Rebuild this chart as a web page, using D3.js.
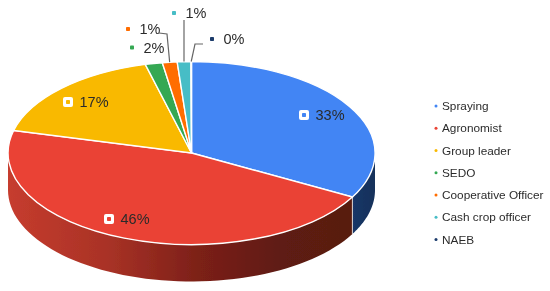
<!DOCTYPE html>
<html>
<head>
<meta charset="utf-8">
<script src="https://cdn.jsdelivr.net/npm/d3@7"></script>
<style>
	html, body { margin: 0; padding: 0; background: #fff; }
	text { font-family: "Liberation Sans", Arial, sans-serif; fill: #2b2b2b; }
</style>
</head>
<body>
<div id="container"></div>
<script>
var categories = ["Spraying", "Agronomist", "Group leader", "SEDO", "Cooperative Officer", "Cash crop officer", "NAEB"];
var shares = [33, 46, 17, 1.5, 1.3, 1.2, 0.05];
var colors = ["#4285f4", "#ea4335", "#f9b902", "#34a853", "#ff6d01", "#46bdc6", "#1a3a6b"];

var w = 550, h = 291;
var cx = 191.5, cy = 153, rx = 183.5, ry = 91.5, depth = 37;

// label spots, same order as categories: [marker x, marker y]
var labelSpots = [[304, 115], [109, 219], [68, 102], [132, 47.5], [128, 29], [174, 13], [212, 39]];
// leader lines for the small slices, null where there is none
var leaders = [null, null, null, null,
	[[159, 33], [167, 34]],
	[[184, 20]],
	[[203, 44], [195, 44]]];

var svg = d3.select("#container")
	.append("svg")
	.attr("width", w)
	.attr("height", h)
	.style("display", "block");

var defs = svg.append("defs");
defs.append("filter").attr("id", "soft")
	.append("feGaussianBlur").attr("stdDeviation", 0.4);

var redSide = defs.append("linearGradient")
	.attr("id", "redSide")
	.attr("gradientUnits", "userSpaceOnUse")
	.attr("x1", cx - rx).attr("x2", cx + rx)
	.attr("y1", 0).attr("y2", 0);
redSide.append("stop").attr("offset", "0%").attr("stop-color", "#c63c2e");
redSide.append("stop").attr("offset", "27%").attr("stop-color", "#a93226");
redSide.append("stop").attr("offset", "52%").attr("stop-color", "#7c2018");
redSide.append("stop").attr("offset", "75%").attr("stop-color", "#5e1b12");
redSide.append("stop").attr("offset", "100%").attr("stop-color", "#561a10");

var blueSide = defs.append("linearGradient")
	.attr("id", "blueSide")
	.attr("gradientUnits", "userSpaceOnUse")
	.attr("x1", cx + 160).attr("x2", cx + rx)
	.attr("y1", 0).attr("y2", 0);
blueSide.append("stop").attr("offset", "0%").attr("stop-color", "#1a3768");
blueSide.append("stop").attr("offset", "100%").attr("stop-color", "#14305a");

var pie = d3.pie().sort(null).value(function(d){ return d; });
var slices = pie(shares);
var arc = d3.arc().innerRadius(0).outerRadius(1);

var chart = svg.append("g").attr("filter", "url(#soft)");

// point on the rim of the ellipse, angle clockwise from the top
function rim(a, drop) {
	return [cx + rx * Math.sin(a), cy - ry * Math.cos(a) + drop];
}

// side wall, only the front half of the rim can be seen
function wall(d) {
	var a0 = Math.max(d.startAngle, Math.PI / 2);
	var a1 = Math.min(d.endAngle, Math.PI * 3 / 2);
	if (a1 <= a0) return null;
	var angles = d3.range(0, 61).map(function(i){ return a0 + (a1 - a0) * i / 60; });
	var pts = angles.map(function(a){ return rim(a, 0); })
		.concat(angles.slice().reverse().map(function(a){ return rim(a, depth); }));
	return d3.line()(pts) + "Z";
}

chart.selectAll("path.side")
	.data(slices.filter(function(d){ return wall(d); }))
	.enter()
	.append("path")
	.attr("class", "side")
	.attr("d", wall)
	.attr("fill", function(d){ return d.index === 0 ? "url(#blueSide)" : "url(#redSide)"; });

// the pale seam between the blue and the red wall
var seam = rim(slices[0].endAngle, 0);
chart.append("line")
	.attr("x1", seam[0]).attr("y1", seam[1])
	.attr("x2", seam[0]).attr("y2", seam[1] + depth)
	.attr("stroke", "#d9d4d2")
	.attr("stroke-width", 1);

chart.selectAll("path.top")
	.data(slices)
	.enter()
	.append("path")
	.attr("class", "top")
	.attr("d", arc)
	.attr("transform", "translate(" + cx + "," + cy + ") scale(" + rx + "," + ry + ")")
	.attr("fill", function(d){ return colors[d.index]; })
	.attr("stroke", "#fff")
	.attr("stroke-width", 1.4)
	.attr("vector-effect", "non-scaling-stroke");

// leader lines
slices.forEach(function(d){
	var pts = leaders[d.index];
	if (!pts) return;
	var end = rim((d.startAngle + d.endAngle) / 2, 0);
	chart.append("path")
		.attr("d", d3.line()(pts.concat([end])))
		.attr("fill", "none")
		.attr("stroke", "#666")
		.attr("stroke-width", 1.2);
});

// value labels
var labels = chart.selectAll("g.label")
	.data(slices)
	.enter()
	.append("g")
	.attr("class", "label")
	.attr("transform", function(d){
		return "translate(" + labelSpots[d.index][0] + "," + labelSpots[d.index][1] + ")";
	});

labels.append("rect")
	.attr("x", -5).attr("y", -5)
	.attr("width", 10).attr("height", 10)
	.attr("rx", 2)
	.attr("fill", "#fff");

labels.append("rect")
	.attr("x", -2).attr("y", -2)
	.attr("width", 4).attr("height", 4)
	.attr("rx", 0.8)
	.attr("fill", function(d){ return colors[d.index]; });

labels.append("text")
	.text(function(d){ return Math.round(d.data) + "%"; })
	.attr("x", 11.5)
	.attr("y", 5)
	.style("font-size", "14.5px");

// legend
var legendY = d3.scalePoint()
	.domain(categories)
	.range([106, 239.5]);

var legend = chart.selectAll("g.legend")
	.data(categories)
	.enter()
	.append("g")
	.attr("class", "legend")
	.attr("transform", function(d){ return "translate(436," + legendY(d) + ")"; });

legend.append("circle")
	.attr("r", 1.5)
	.attr("fill", function(d, i){ return colors[i]; });

legend.append("text")
	.text(function(d){ return d; })
	.attr("x", 6)
	.attr("y", 4)
	.style("font-size", "11.8px");
</script>
</body>
</html>
